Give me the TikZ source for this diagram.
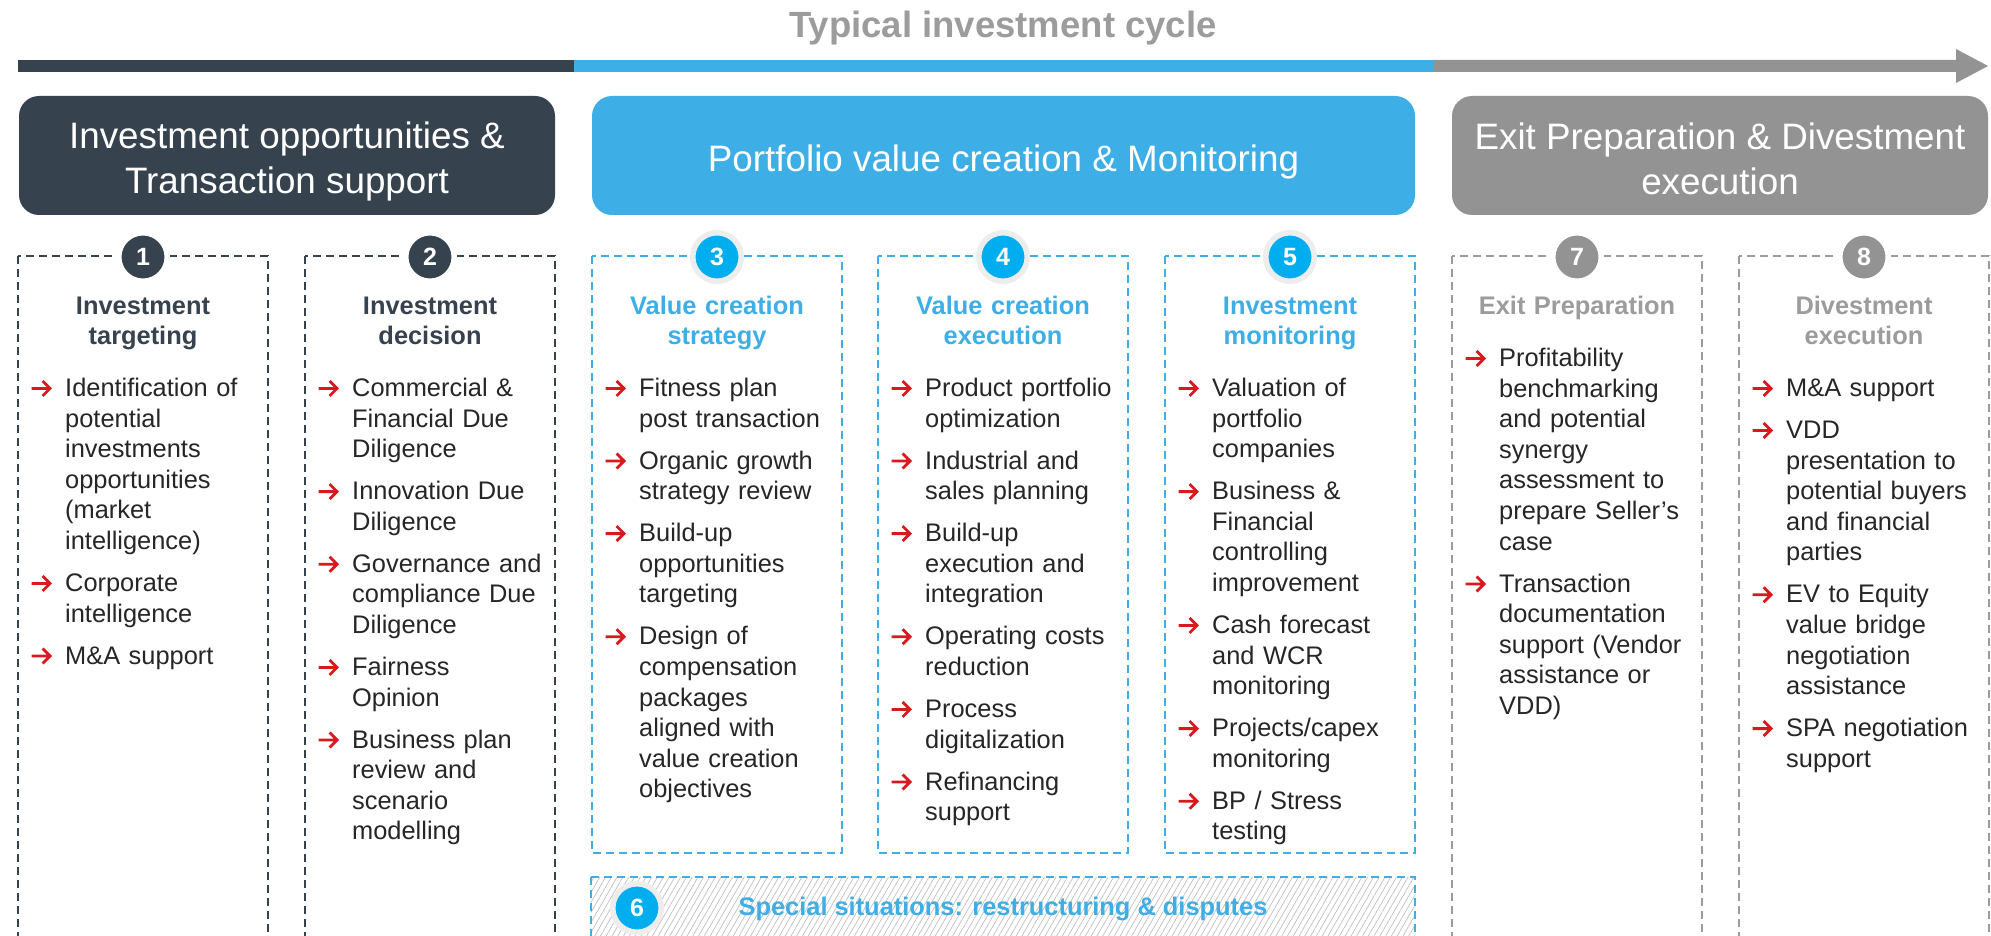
\documentclass[tikz,border=0pt]{standalone}
\usepackage{fontspec}
\setmainfont{Liberation Sans}
\usetikzlibrary{patterns.meta}
\definecolor{navy}{HTML}{37424F}
\definecolor{sky}{HTML}{3DAEE6}
\definecolor{cyanball}{HTML}{00AEEF}
\definecolor{midgray}{HTML}{939393}
\definecolor{softgray}{HTML}{9C9C9C}
\definecolor{ringgray}{HTML}{EDEDED}
\definecolor{arrowred}{HTML}{D9191E}
\definecolor{bodytext}{HTML}{262626}
\newcommand\redarr{\tikz[baseline=0pt,x=1pt,y=1pt]\draw[arrowred,line width=2.8pt] (0,8)--(18,8) (11,15.5)--(18.5,8)--(11,0.5);}
\newcommand\bitem[1]{\par\parskip=11.4pt\noindent\hangindent=35pt\hangafter=1\makebox[35pt][l]{\redarr}\strut#1\par}
\begin{document}
\begin{tikzpicture}[x=1pt,y=-1pt,
  hdr/.style={rounded corners=20pt, minimum height=119pt, inner sep=0pt},
  hdrtext/.style={inner sep=0pt, text=white, align=center, font=\fontsize{36.8}{45}\selectfont},
  colbox/.style={line width=2pt, dash pattern=on 8pt off 5pt},
  ball/.style={circle, minimum size=48.5pt, inner sep=0pt, line width=5.5pt, text=white, font=\bfseries\fontsize{25}{30}\selectfont},
  ttl/.style={anchor=north, text width=240pt, align=center, inner sep=0pt, font=\bfseries\fontsize{25.4}{30.6}\selectfont},
  blist/.style={anchor=north west, text width=232pt, align=left, inner sep=0pt, text=bodytext, font=\fontsize{25.4}{30.6}\selectfont}]
\fill[white] (0,0) rectangle (1991,936);
\clip (0,0) rectangle (1991,936);
\node[font=\bfseries\fontsize{36.5}{44}\selectfont, text=softgray, anchor=base] (cycle) at (1003,38) {Typical investment cycle};
\fill[navy] (18,60) rectangle (574,72);
\fill[sky] (574,60) rectangle (1434,72);
\fill[midgray] (1434,60) -- (1956,60) -- (1956,49) -- (1988,66) -- (1956,83) -- (1956,72) -- (1434,72) -- cycle;
\node[hdr, fill=navy, minimum width=536pt] (hInvest) at (287,155.5) {};
\node[hdr, fill=sky, minimum width=823pt] (hPortfolio) at (1003.5,155.5) {};
\node[hdr, fill=midgray, minimum width=536pt] (hExit) at (1720,155.5) {};
\node[hdrtext] (hInvestText) at ([yshift=-6pt]hInvest.center) {Investment opportunities \&\\Transaction support};
\node[hdrtext] (hPortfolioText) at ([yshift=-6pt]hPortfolio.center) {Portfolio value creation \& Monitoring};
\node[hdrtext] (hExitText) at ([yshift=-3pt]hExit.center) {Exit Preparation \& Divestment\\execution};
\foreach \x in {18,305} \draw[colbox, navy] (\x,256) rectangle ++(250,720);
\foreach \x in {592,878,1165} \draw[colbox, sky] (\x,256) rectangle ++(250,597);
\foreach \x in {1452,1739} \draw[colbox, softgray] (\x,256) rectangle ++(250,720);
\draw[colbox, sky, pattern={Lines[angle=60,distance=5pt,line width=0.7pt]}, pattern color=gray!50] (591,877) rectangle (1415,980);
\foreach \n/\x/\c/\r in {1/143/navy/white, 2/430/navy/white, 3/717/cyanball/ringgray, 4/1003/cyanball/ringgray, 5/1290/cyanball/ringgray, 7/1577/midgray/white, 8/1864/midgray/white}
  \node[ball, fill=\c, draw=\r] (n\n) at (\x,257) {\n};
\node[ball, fill=cyanball, draw=ringgray] (n6) at (637,908) {6};
\node[font=\bfseries\fontsize{25.4}{30.6}\selectfont, text=sky, anchor=base] (special) at (1003,915) {Special situations: restructuring \& disputes};
\node[ttl, text=navy] (t1) at (143,292.6) {\strut Investment\\targeting};
\node[ttl, text=navy] (t2) at (430,292.6) {\strut Investment\\decision};
\node[ttl, text=sky] (t3) at (717,292.6) {\strut Value creation\\strategy};
\node[ttl, text=sky] (t4) at (1003,292.6) {\strut Value creation\\execution};
\node[ttl, text=sky] (t5) at (1290,292.6) {\strut Investment\\monitoring};
\node[ttl, text=softgray] (t7) at (1577,292.6) {\strut Exit Preparation};
\node[ttl, text=softgray] (t8) at (1864,292.6) {\strut Divestment\\execution};
\node[blist] (l1) at (30,354.2) {\bitem{Identification of\newline potential\newline investments\newline opportunities\newline (market\newline intelligence)}\bitem{Corporate\newline intelligence}\bitem{M\&A support}};
\node[blist] (l2) at (317,354.2) {\bitem{Commercial \&\newline Financial Due\newline Diligence}\bitem{Innovation Due\newline Diligence}\bitem{Governance and\newline compliance Due\newline Diligence}\bitem{Fairness\newline Opinion}\bitem{Business plan\newline review and\newline scenario\newline modelling}};
\node[blist] (l3) at (604,354.2) {\bitem{Fitness plan\newline post transaction}\bitem{Organic growth\newline strategy review}\bitem{Build-up\newline opportunities\newline targeting}\bitem{Design of\newline compensation\newline packages\newline aligned with\newline value creation\newline objectives}};
\node[blist] (l4) at (890,354.2) {\bitem{Product portfolio\newline optimization}\bitem{Industrial and\newline sales planning}\bitem{Build-up\newline execution and\newline integration}\bitem{Operating costs\newline reduction}\bitem{Process\newline digitalization}\bitem{Refinancing\newline support}};
\node[blist] (l5) at (1177,354.2) {\bitem{Valuation of\newline portfolio\newline companies}\bitem{Business \&\newline Financial\newline controlling\newline improvement}\bitem{Cash forecast\newline and WCR\newline monitoring}\bitem{Projects/capex\newline monitoring}\bitem{BP / Stress\newline testing}};
\node[blist] (l7) at (1464,324.2) {\bitem{Profitability\newline benchmarking\newline and potential\newline synergy\newline assessment to\newline prepare Seller’s\newline case}\bitem{Transaction\newline documentation\newline support (Vendor\newline assistance or\newline VDD)}};
\node[blist] (l8) at (1751,354.2) {\bitem{M\&A support}\bitem{VDD\newline presentation to\newline potential buyers\newline and financial\newline parties}\bitem{EV to Equity\newline value bridge\newline negotiation\newline assistance}\bitem{SPA negotiation\newline support}};
\end{tikzpicture}
\end{document}
